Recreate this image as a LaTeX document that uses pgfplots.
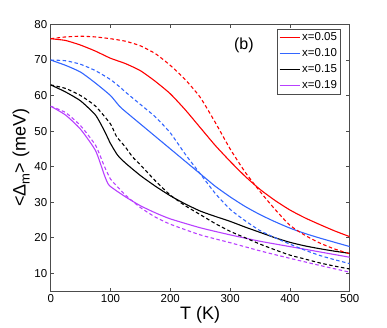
\documentclass[border=0pt]{standalone}
\usepackage{pgfplots}
\pgfplotsset{compat=1.18}
\usepackage{fontspec}
\setmainfont{Liberation Sans}
\definecolor{cred}{rgb}{1,0,0}
\definecolor{cblue}{rgb}{0.2,0.4,1}
\definecolor{cblack}{rgb}{0,0,0}
\definecolor{cpurp}{rgb}{0.72,0.25,1}
\pgfplotsset{
  sol/.style={line width=1.1pt, smooth, tension=0.35},
  das/.style={line width=1.1pt, smooth, tension=0.35, dash pattern=on 3.5pt off 2.5pt},
}
\begin{document}
\begin{tikzpicture}
\begin{axis}[
  scale only axis,
  width=299pt, height=266.5pt,
  xmin=0, xmax=500, ymin=5, ymax=80,
  xtick={0,100,...,500}, ytick={10,20,...,80},
  tick align=inside,
  major tick length=3.5pt,
  axis line style={black!70, line width=0.6pt},
  every tick/.style={black!70, line width=0.5pt},
  /pgf/number format/assume math mode=true,
  tick label style={font=\fontsize{11.5}{13}\selectfont},
  xlabel={T (K)},
  ylabel={<Δ\raisebox{-0.4ex}{\fontsize{13}{13}\selectfont m}> (meV)},
  label style={font=\fontsize{18}{20}\selectfont},
  xlabel style={yshift=3pt},
  ylabel style={yshift=-2pt},
  legend style={at={(0.97,0.983)}, anchor=north east, draw=black!70,
    font=\fontsize{11.5}{13}\selectfont, inner sep=1.5pt,
    row sep=2.5pt, legend cell align=left},
  legend image code/.code={\draw[#1, line width=1pt] (0pt,0pt) -- (20pt,0pt);},
]
% solid curves
\addplot[sol, cred] coordinates {(0,76)(25,75.5)(50,74.2)(75,72.5)(100,70.5)(125,69)(150,67)(175,64)(200,60.5)(225,56)(250,51)(275,46)(300,41.5)(325,37.3)(350,33.6)(375,30.5)(400,27.8)(425,25.6)(450,23.7)(475,21.9)(500,20.3)};
\addlegendentry{x=0.05}
\addplot[sol, cblue] coordinates {(0,70)(25,68.5)(50,66.6)(75,63.5)(100,60)(115,57)(125,55.5)(150,52)(175,48.5)(200,45)(225,41.5)(250,38)(275,34.5)(300,31.5)(325,28.8)(350,26.5)(375,24.5)(400,22.7)(425,21.2)(450,19.9)(475,18.7)(500,17.5)};
\addlegendentry{x=0.10}
\addplot[sol, cblack] coordinates {(0,63)(25,61)(50,58.5)(75,54.5)(90,50)(100,46.5)(112,43.2)(125,41)(150,37.5)(175,34.5)(200,31.8)(225,29.5)(250,27.5)(275,26)(300,24.6)(325,23)(350,21.5)(375,20)(400,18.7)(425,17.7)(450,16.9)(475,16.2)(500,15.6)};
\addlegendentry{x=0.15}
\addplot[sol, cpurp] coordinates {(0,57)(25,54.5)(50,50.5)(75,44.5)(90,37.5)(98,34.7)(125,31.5)(150,29)(175,27)(200,25.3)(250,22.8)(300,20.8)(350,19)(400,17.5)(450,16)(500,14.5)};
\addlegendentry{x=0.19}
% dashed curves
\addplot[das, cred] coordinates {(0,76)(25,76.5)(50,76.7)(75,76.5)(100,76)(125,75.3)(150,74)(175,71.8)(200,68.5)(225,64.5)(250,59.5)(275,52.5)(300,45)(325,38.5)(350,33)(375,28)(400,23.5)(425,20.7)(450,18.5)(475,16.8)(500,15.5)};
\addplot[das, cblue] coordinates {(0,70)(25,69.8)(50,68.8)(75,67)(100,64.5)(115,62.5)(125,61)(150,57.5)(175,54)(200,49.5)(225,43.5)(250,38)(275,32.5)(300,28)(325,24.8)(350,22)(375,20)(400,18.2)(425,16.5)(450,15)(475,13.8)(500,12.7)};
\addplot[das, cblack] coordinates {(0,63)(25,62)(50,60)(75,57)(100,52)(110,48.5)(125,45.5)(137,42.7)(150,40.5)(175,36)(200,32)(225,29)(250,26.5)(275,24)(300,21.8)(325,20)(350,18.2)(375,16.6)(400,15.1)(425,14)(450,12.9)(475,12)(500,11.2)};
\addplot[das, cpurp] coordinates {(0,57)(25,55.2)(50,51.5)(75,46)(90,40)(100,36.5)(108,35)(125,32)(150,28.5)(175,25.8)(200,23.8)(250,20.8)(300,18.6)(350,16.3)(400,14.2)(450,12.2)(500,10.3)};
\node[font=\fontsize{16}{18}\selectfont] at (axis cs:323,74.2) {(b)};
\end{axis}
\path (current axis.south west) ++(-50.7pt,-36pt) rectangle ++(387pt,327pt);
\end{tikzpicture}
\end{document}
